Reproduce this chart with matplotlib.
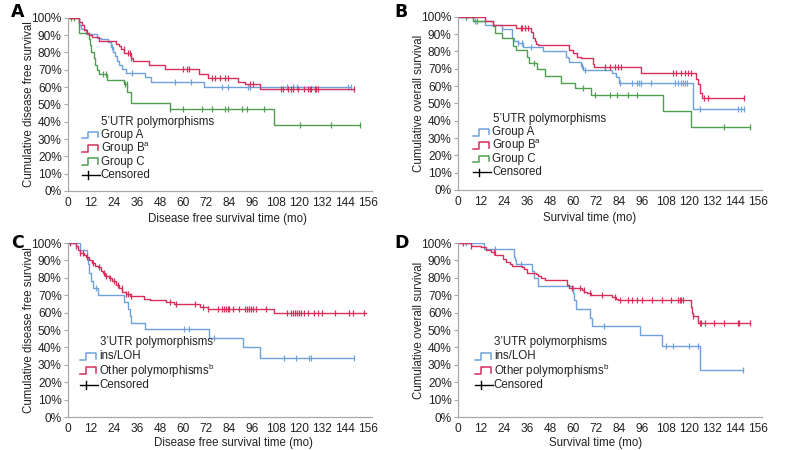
import numpy as np
import matplotlib.pyplot as plt

plt.rcParams['font.family'] = ['Liberation Sans', 'DejaVu Sans']
plt.rcParams['mathtext.fontset'] = 'custom'
plt.rcParams['mathtext.rm'] = 'Liberation Sans'

# ---- data (months, survival %) ----
# panel A: disease free survival, 5'UTR
a_blue_t = [0, 5.5, 6.7, 9.3, 15.3, 17, 21, 22.2, 23.5, 24.5, 25.5, 26.5, 28.3, 30.3, 39.8, 43.4, 70.5]
a_blue_s = [100, 95.6, 93.6, 90.8, 88.4, 87.5, 86, 83, 80, 78, 75, 73, 70.5, 68, 66, 63, 60]
a_blue_end = 147
a_blue_c = [5.9, 23, 33.4, 55.9, 64, 80, 83.4, 93.8, 94.7, 114, 117, 119, 145.5, 147]

a_red_t = [0, 5.9, 7.5, 8.5, 10, 11, 12.5, 16.2, 24.8, 26.5, 27.5, 29.2, 32.6, 34, 42, 50.7, 68, 73, 88.6, 92, 99.8]
a_red_s = [100, 97.5, 95.6, 93, 91, 90, 89, 86.5, 84.6, 83.6, 82, 79.6, 77, 75.3, 73, 70.5, 67.6, 65.3, 62.8, 61.5, 59]
a_red_end = 149
a_red_c = [29, 31, 32, 32.6, 60, 62, 63, 75, 76.6, 79, 81.7, 83.4, 94.6, 96.4, 111, 112, 114.5, 116.2, 117,
           119.6, 123, 124.8, 125.7, 126.5, 128.3, 129, 130, 149]

a_green_t = [0, 5.9, 11, 11.5, 12, 13.3, 14.3, 15.3, 16.2, 20.5, 29, 30.8, 32.6, 53.3, 107]
a_green_s = [100, 91, 88, 84, 80, 77, 73, 70, 67.7, 64, 61.6, 57, 51, 47.5, 38]
a_green_end = 152
a_green_c = [1.5, 3.3, 18, 19.6, 29.7, 30.5, 53.3, 60, 69.6, 74.8, 81.7, 83.4, 90.3, 93, 102, 120.5, 137, 152]

# panel B: overall survival, 5'UTR
b_blue_t = [0, 8, 14, 23, 28, 29, 31, 34, 44, 56, 57, 58, 64, 65, 80, 82, 84, 122]
b_blue_s = [100, 97.5, 95.5, 92.7, 88, 86, 84.6, 82.5, 80, 77, 76, 74, 71.5, 69, 67.7, 65.4, 62, 46.5]
b_blue_end = 149
b_blue_c = [4, 9, 23, 31, 33.5, 38, 64.5, 66, 84.5, 90.7, 93, 94, 95, 100.6, 112.8, 114.5, 116, 117,
            118, 119, 126, 145.5, 147, 149]

b_red_t = [0, 14, 18, 30, 38, 39, 40, 40.7, 41.7, 58, 60, 62, 64, 70, 71, 95, 124, 125, 126, 127]
b_red_s = [100, 97.5, 95, 93.6, 91, 88, 86, 84.5, 83.6, 81, 79, 77, 76, 73, 71, 67.5, 64, 61, 56, 53]
b_red_end = 149
b_red_c = [32.6, 33.4, 35, 36.6, 76.6, 79, 81.7, 83.4, 85, 112, 113.6, 116, 118, 119.6, 121, 128, 130, 149]

b_green_t = [0, 7.6, 18, 19, 23, 28.6, 30, 36, 37, 41, 45.5, 53.8, 60.7, 69, 106.7, 121]
b_green_s = [100, 97.5, 94.6, 90.8, 88, 83, 80.6, 77, 73.5, 70, 66, 62, 59, 55, 45.6, 36.5]
b_green_end = 152
b_green_c = [4, 10, 39.5, 65, 71.5, 79, 82.6, 88.6, 92.9, 138.6, 152]

# panel C: disease free survival, 3'UTR
c_blue_t = [0, 6, 10, 10.5, 11, 12, 13, 15.4, 29.3, 31, 32, 33, 40.3, 73.5, 90.8, 100]
c_blue_s = [100, 96, 92, 88, 83, 78, 74, 70, 66, 62, 58, 54, 50.8, 45.5, 40, 34]
c_blue_end = 149
c_blue_c = [14.5, 60.5, 63, 76, 112.5, 118.5, 125.5, 126.4, 149]

c_red_t = [0, 4, 5, 6, 8.5, 9.5, 11, 12.5, 14, 15.5, 17, 18, 19.5, 21.5, 23, 25, 26.5, 28.3, 30, 32,
           39.7, 42.5, 51, 55, 68.8, 73, 107]
c_red_s = [100, 98, 96, 94, 93, 92, 90, 88.5, 87, 86, 84, 83, 81, 80, 78, 76, 74, 72, 70.5, 69.6,
           68, 67, 66, 65, 63.5, 62.2, 60]
c_red_end = 155
c_red_c = [1, 4, 6.5, 8, 10, 13, 16, 18.5, 20, 22, 24, 26, 28, 30, 31, 33, 53, 56, 66, 70, 73, 78, 80, 81,
           82, 83, 84, 86, 89, 92, 93, 94, 95, 96, 98, 103, 114, 116, 117, 118, 119, 120, 121, 123, 125,
           128, 130, 132, 139, 146, 148, 154]

# panel D: overall survival, 3'UTR
d_blue_t = [0, 13.6, 29, 29.5, 30, 38.6, 39.5, 41.7, 59.7, 60.5, 61.2, 68.8, 69.5, 94.7, 106, 125.7]
d_blue_s = [100, 96.4, 92, 90, 88, 84, 80, 75.5, 71, 67, 62, 57, 52.4, 47, 41, 27]
d_blue_end = 148
d_blue_c = [4, 19, 33, 76, 108, 112, 120, 125, 148]

d_red_t = [0, 6.7, 12, 14.5, 17, 19.5, 23.5, 25, 27, 28, 33.5, 34.5, 36, 40.5, 41.5, 43, 45.5, 56.5, 58,
           64.5, 65.5, 67, 69, 80, 82, 83.4, 121, 121.7, 122.2, 124.8]
d_red_s = [100, 98.5, 97.7, 96, 95, 93, 91, 89, 88, 87, 86, 85, 83, 82, 81, 80, 78.5, 76, 74, 73, 72,
           71, 70, 69, 68, 67, 63, 60, 58, 54]
d_red_end = 152
d_red_c = [2.4, 6.7, 18.8, 59.3, 63.6, 65.3, 68.8, 74.8, 81.7, 84.3, 88.6, 90.3, 93, 95.5, 100.7, 106,
           111, 114.5, 115.3, 116.2, 117, 122.2, 125.7, 126.5, 128.3, 133.4, 138.6, 145.5, 146.4, 152]

BLUE = '#6ea2dc'
RED = '#d62f5c'
GREEN = '#4f9f4f'
TXT = '#222222'
SPINE = '#a8a8a8'
FS = 8.3


def km(ax, t, s, end, cens, color):
    t = np.array(t + [end], dtype=float)
    s = np.array(s + [s[-1]], dtype=float) / 100
    ax.step(t, s, where='post', color=color, lw=1.0)
    c = np.array(cens, dtype=float)
    idx = np.searchsorted(t, c, side='right') - 1
    ax.plot(c, s[np.clip(idx, 0, len(s) - 1)], ls='none', marker='|', ms=4, mew=0.9, color=color)


def setup(ax, xlabel, ylabel, xl_x, xl_y):
    ax.set_xlim(0, 158)
    ax.set_ylim(0, 1.0)
    ax.set_xticks(np.arange(0, 157, 12))
    ax.set_yticks(np.arange(0, 1.01, 0.1))
    ax.set_yticklabels(['%d%%' % v for v in range(0, 101, 10)])
    for sp in ['top', 'right']:
        ax.spines[sp].set_visible(False)
    for sp in ['left', 'bottom']:
        ax.spines[sp].set_color(SPINE)
        ax.spines[sp].set_linewidth(0.9)
    ax.tick_params(axis='y', length=3, color=SPINE, labelsize=FS + 0.3, labelcolor=TXT, pad=1.5)
    ax.tick_params(axis='x', length=0, labelsize=FS + 0.3, labelcolor=TXT, pad=4)
    ax.set_xlabel(xlabel, fontsize=FS, color=TXT)
    ax.set_ylabel(ylabel, fontsize=FS, color=TXT)
    ax.xaxis.set_label_coords(xl_x, xl_y)
    ax.yaxis.set_label_coords(-0.11, 0.5)


def legend(ax, title, labels, colors, x0, ytop, dy):
    # step-shaped handles drawn in axes coordinates
    tr = ax.transAxes
    ax.text(x0 + 0.064, ytop, title, transform=tr, fontsize=FS, color=TXT, va='center', ha='left')
    hx = np.array([0, 0.35, 0.35, 0.95, 0.95]) * 0.056 + x0
    hy = np.array([-0.5, -0.5, 0.5, 0.5, -0.3]) * 0.04
    rows = list(zip(labels, colors)) + [('Censored', 'black')]
    for i, (lab, col) in enumerate(rows):
        y = ytop - dy * (i + 1)
        if lab == 'Censored':
            ax.plot([x0, x0 + 0.06], [y, y], color='black', lw=1.0, transform=tr, clip_on=False)
            ax.plot([x0 + 0.02, x0 + 0.02], [y - 0.022, y + 0.022], color='black', lw=1.0,
                    transform=tr, clip_on=False)
        else:
            ax.plot(hx, y + hy, color=col, lw=1.1, transform=tr, clip_on=False)
        ax.text(x0 + 0.062, y, lab, transform=tr, fontsize=FS, color=TXT, va='center', ha='left')


fig = plt.figure(figsize=(7.85, 4.5), dpi=100)
w, h = 0.387, 0.385
axA = fig.add_axes([0.0866, 0.5756, w, h])
axB = fig.add_axes([0.5834, 0.5778, w, h])
axC = fig.add_axes([0.0866, 0.0733, w, 0.3867])
axD = fig.add_axes([0.5834, 0.0733, w, 0.3867])

km(axA, a_blue_t, a_blue_s, a_blue_end, a_blue_c, BLUE)
km(axA, a_green_t, a_green_s, a_green_end, a_green_c, GREEN)
km(axA, a_red_t, a_red_s, a_red_end, a_red_c, RED)
setup(axA, 'Disease free survival time (mo)', 'Cumulative disease free survival', 0.526, -0.128)
legend(axA, "5\u2019UTR polymorphisms", ['Group A', 'Group B$^{\\mathregular{a}}$', 'Group C'],
       [BLUE, RED, GREEN], 0.046, 0.40, 0.077)

km(axB, b_blue_t, b_blue_s, b_blue_end, b_blue_c, BLUE)
km(axB, b_green_t, b_green_s, b_green_end, b_green_c, GREEN)
km(axB, b_red_t, b_red_s, b_red_end, b_red_c, RED)
setup(axB, 'Survival time (mo)', 'Cumulative overall survival', 0.434, -0.128)
legend(axB, "5\u2019UTR polymorphisms", ['Group A', 'Group B$^{\\mathregular{a}}$', 'Group C'],
       [BLUE, RED, GREEN], 0.05, 0.41, 0.077)

km(axC, c_blue_t, c_blue_s, c_blue_end, c_blue_c, BLUE)
km(axC, c_red_t, c_red_s, c_red_end, c_red_c, RED)
setup(axC, 'Disease free survival time (mo)', 'Cumulative disease free survival', 0.546, -0.115)
legend(axC, "3\u2019UTR polymorphisms", ['ins/LOH', 'Other polymorphisms$^{\\mathregular{b}}$'],
       [BLUE, RED], 0.04, 0.43, 0.082)

km(axD, d_blue_t, d_blue_s, d_blue_end, d_blue_c, BLUE)
km(axD, d_red_t, d_red_s, d_red_end, d_red_c, RED)
setup(axD, 'Survival time (mo)', 'Cumulative overall survival', 0.454, -0.115)
legend(axD, "3\u2019UTR polymorphisms", ['ins/LOH', 'Other polymorphisms$^{\\mathregular{b}}$'],
       [BLUE, RED], 0.056, 0.43, 0.082)

for lab, x, y in [('A', 18, 12), ('B', 401, 12), ('C', 18, 243), ('D', 402, 243)]:
    fig.text(x / 785, 1 - y / 450, lab, fontsize=12.5, fontweight='bold', ha='center', va='center',
             family='DejaVu Sans')

plt.savefig('out.png', dpi=100)
